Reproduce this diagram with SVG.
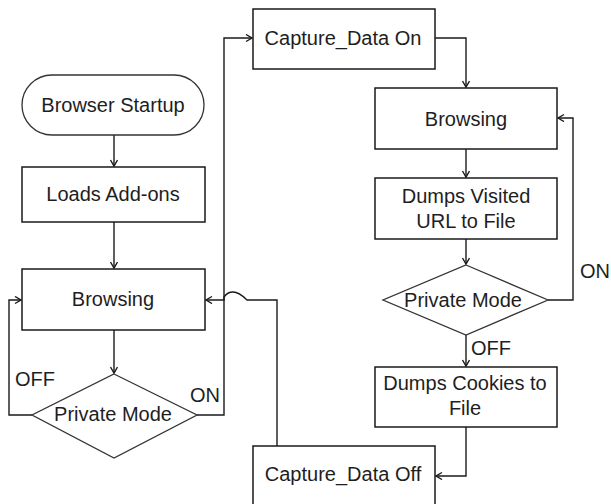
<svg xmlns="http://www.w3.org/2000/svg" width="611" height="504" viewBox="0 0 611 504">
  <defs>
    <marker id="arrow" markerUnits="userSpaceOnUse" markerWidth="10" markerHeight="10" refX="7" refY="4" orient="auto">
      <path d="M1,0.5 L7,4 L1,7.5" fill="none" stroke="#1a1a1a" stroke-width="1.4"/>
    </marker>
  </defs>
  <style>
    .box { fill: #ffffff; stroke: #1a1a1a; stroke-width: 1.5; }
    .soft { fill: #ffffff; stroke: #333333; stroke-width: 1.3; }
    .lbl { font-family: "Liberation Sans", Arial, sans-serif; font-size: 20px; fill: #1e1e1e; text-anchor: middle; }
    .tag { font-family: "Liberation Sans", Arial, sans-serif; font-size: 20px; fill: #1e1e1e; }
    .wire { fill: none; stroke: #1a1a1a; stroke-width: 1.4; }
  </style>
  <rect width="611" height="504" fill="#ffffff"/>

  <!-- connectors -->
  <g id="connectors">
    <path class="wire" d="M114,135 V166" marker-end="url(#arrow)"/>
    <path class="wire" d="M114,222 V268" marker-end="url(#arrow)"/>
    <path class="wire" d="M114,330 V373" marker-end="url(#arrow)"/>
    <path class="wire" d="M32,415 H9 V300 H21" marker-end="url(#arrow)"/>
    <path class="wire" d="M197,415 H224 V38 H252" marker-end="url(#arrow)"/>
    <path class="wire" d="M435,38 H466 V87" marker-end="url(#arrow)"/>
    <path class="wire" d="M466,149 V177" marker-end="url(#arrow)"/>
    <path class="wire" d="M466,239 V264" marker-end="url(#arrow)"/>
    <path class="wire" d="M548,300 H573 V118 H558" marker-end="url(#arrow)"/>
    <path class="wire" d="M466,335 V366" marker-end="url(#arrow)"/>
    <path class="wire" d="M466,427 V476 H436" marker-end="url(#arrow)"/>
    <path class="wire" d="M277,446 V300 H247 C242,295 238,292 233,292 C229,292 226,294 224,297 V300 H206" marker-end="url(#arrow)"/>
  </g>

  <!-- left column -->
  <g id="browser-startup">
    <rect class="soft" x="22" y="75" width="182" height="60" rx="30" ry="30"/>
    <text class="lbl" x="113" y="112">Browser Startup</text>
  </g>
  <g id="loads-addons">
    <rect class="box" x="22" y="167" width="183" height="55"/>
    <text class="lbl" x="113" y="201">Loads Add-ons</text>
  </g>
  <g id="browsing-1">
    <rect class="box" x="22" y="269" width="183" height="61"/>
    <text class="lbl" x="113" y="306">Browsing</text>
  </g>
  <g id="private-mode-1">
    <polygon class="soft" points="114,374 197,415 114,458 32,415"/>
    <text class="lbl" x="113" y="421">Private Mode</text>
  </g>
  <g id="labels-1">
    <text class="tag" x="15" y="386">OFF</text>
    <text class="tag" x="190" y="402">ON</text>
  </g>

  <!-- capture boxes -->
  <g id="capture-on">
    <rect class="box" x="253" y="9" width="182" height="60"/>
    <text class="lbl" x="343" y="45">Capture_Data On</text>
  </g>
  <g id="capture-off">
    <rect class="box" x="253" y="446" width="182" height="70"/>
    <text class="lbl" x="343" y="481">Capture_Data Off</text>
  </g>

  <!-- right column -->
  <g id="browsing-2">
    <rect class="box" x="375" y="88" width="182" height="61"/>
    <text class="lbl" x="466" y="126">Browsing</text>
  </g>
  <g id="dumps-urls">
    <rect class="box" x="375" y="178" width="182" height="61"/>
    <text class="lbl" x="466" y="203">Dumps Visited</text>
    <text class="lbl" x="466" y="228">URL to File</text>
  </g>
  <g id="private-mode-2">
    <polygon class="soft" points="466,265 548,300 466,335 383,300"/>
    <text class="lbl" x="463" y="307">Private Mode</text>
  </g>
  <g id="dumps-cookies">
    <rect class="box" x="375" y="367" width="182" height="60"/>
    <text class="lbl" x="465" y="390">Dumps Cookies to</text>
    <text class="lbl" x="465" y="415">File</text>
  </g>
  <g id="labels-2">
    <text class="tag" x="580" y="278">ON</text>
    <text class="tag" x="471" y="355">OFF</text>
  </g>
</svg>
